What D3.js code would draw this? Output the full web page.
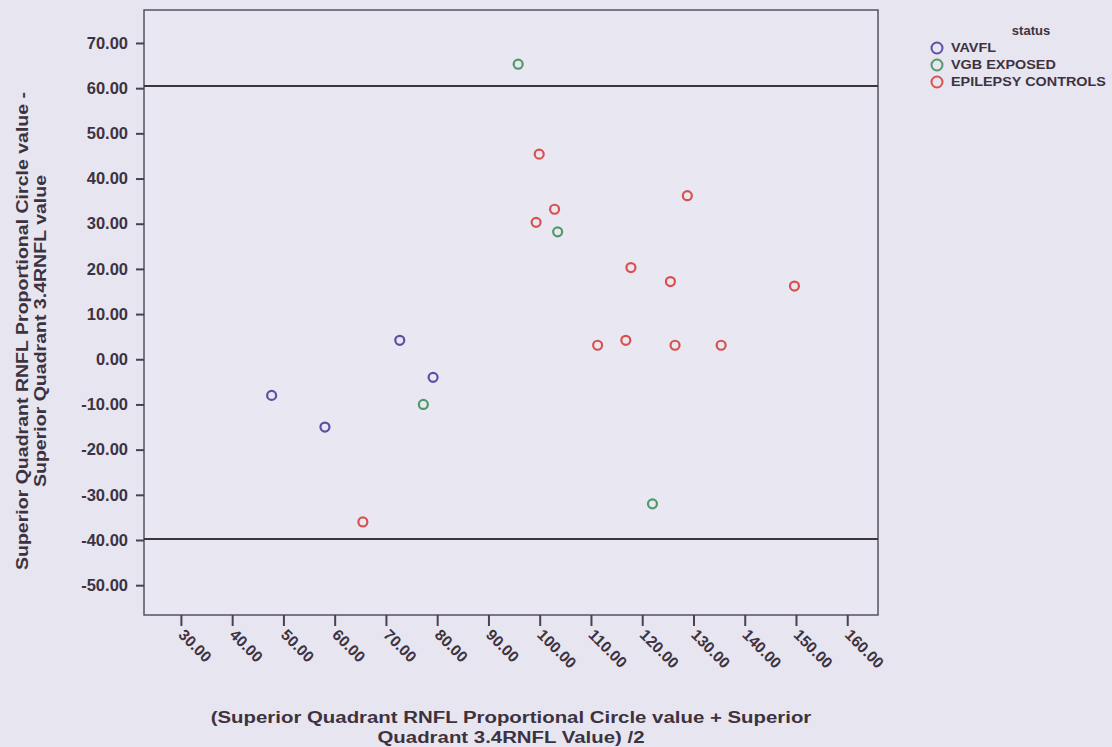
<!DOCTYPE html>
<html>
<head>
<script src="https://d3js.org/d3.v7.min.js"></script>
<style>
  body { margin: 0; background: #e7e5f0; }
  text { font-family: "Liberation Sans", Arial, sans-serif; font-weight: bold; fill: #3d3340; }
</style>
</head>
<body>
<script>
var width = 1112, height = 747;
var margin = {top: 10, right: 234, bottom: 132, left: 144};

// data
var groups = ["VAVFL", "VGB EXPOSED", "EPILEPSY CONTROLS"];
var groupColors = ["#5b4fa6", "#4f9a68", "#d8514f"];
var vavflX = [47.7, 58.1, 72.7, 79.2];
var vavflY = [-8, -15, 4.2, -4];
var vgbX = [77.3, 95.8, 103.5, 122];
var vgbY = [-10, 65.3, 28.2, -32];
var ctrlX = [65.5, 99.9, 102.9, 99.3, 128.8, 117.8, 125.5, 149.7, 111.3, 116.8, 126.4, 135.4];
var ctrlY = [-36, 45.4, 33.2, 30.3, 36.2, 20.3, 17.2, 16.2, 3.1, 4.2, 3.1, 3.1];
var refLines = [60.5, -39.8];
var xTicks = [30, 40, 50, 60, 70, 80, 90, 100, 110, 120, 130, 140, 150, 160];
var yTicks = [70, 60, 50, 40, 30, 20, 10, 0, -10, -20, -30, -40, -50];

var w = width - margin.left - margin.right,
    h = height - margin.top - margin.bottom;

var svg = d3.select("body").append("svg")
  .attr("width", width)
  .attr("height", height);

var g = svg.append("g")
  .attr("transform", "translate(" + margin.left + "," + margin.top + ")");

var x = d3.scaleLinear().domain([22.8, 166]).range([0, w]);
var y = d3.scaleLinear().domain([-56.6, 77.3]).range([h, 0]);

g.append("rect")
  .attr("width", w)
  .attr("height", h)
  .style("fill", "#e9e8f2")
  .style("stroke", "#5a5060")
  .style("stroke-width", 1.5);

// reference lines
g.selectAll(".ref")
  .data(refLines)
  .enter().append("line")
  .attr("x1", 0).attr("x2", w)
  .attr("y1", function(d){ return y(d); })
  .attr("y2", function(d){ return y(d); })
  .style("stroke", "#3e3440")
  .style("stroke-width", 2);

var xAxis = d3.axisBottom(x).tickValues(xTicks).tickSize(11).tickFormat(d3.format(".2f"));
var yAxis = d3.axisLeft(y).tickValues(yTicks).tickSize(8).tickFormat(d3.format(".2f"));

var gx = g.append("g")
  .attr("transform", "translate(0," + h + ")")
  .call(xAxis);
gx.select(".domain").remove();
gx.selectAll(".tick line").style("stroke", "#4a4050").style("stroke-width", 2);
gx.selectAll(".tick text")
  .style("font-size", "15.5px")
  .attr("text-anchor", "start")
  .attr("dy", "0.35em")
  .attr("transform", "translate(0,17) rotate(45)")
  .attr("y", 0).attr("x", 0);

var gy = g.append("g").call(yAxis);
gy.select(".domain").remove();
gy.selectAll(".tick line").style("stroke", "#4a4050").style("stroke-width", 2);
gy.selectAll(".tick text")
  .style("font-size", "16.5px")
  .attr("x", -16)
  .text(function(d){ return d < 0 ? "-" + d3.format(".2f")(-d) : d3.format(".2f")(d); });

// points
var series = [
  {xs: vavflX, ys: vavflY, c: groupColors[0]},
  {xs: vgbX, ys: vgbY, c: groupColors[1]},
  {xs: ctrlX, ys: ctrlY, c: groupColors[2]}
];
series.forEach(function(s){
  g.selectAll(null)
    .data(s.xs)
    .enter().append("circle")
    .attr("cx", function(d){ return x(d); })
    .attr("cy", function(d, i){ return y(s.ys[i]); })
    .attr("r", 4.5)
    .style("fill", "none")
    .style("stroke", s.c)
    .style("stroke-width", 2.2);
});

// axis titles (the scan is a little stretched sideways, so widen the text)
var xt = svg.append("g")
  .attr("transform", "translate(" + (margin.left + w/2) + ",0) scale(1.2,1)")
  .append("text")
  .attr("text-anchor", "middle")
  .style("font-size", "17px");
xt.append("tspan").attr("x", 0).attr("y", 723)
  .text("(Superior Quadrant RNFL Proportional Circle value + Superior");
xt.append("tspan").attr("x", 0).attr("y", 743)
  .text("Quadrant 3.4RNFL Value) /2");

var yt = svg.append("g")
  .attr("transform", "translate(0,331) rotate(-90) scale(1.15,1)")
  .append("text")
  .attr("text-anchor", "middle")
  .style("font-size", "17px");
yt.append("tspan").attr("x", 0).attr("y", 28)
  .text("Superior Quadrant RNFL Proportional Circle value -");
yt.append("tspan").attr("x", 0).attr("y", 46)
  .text("Superior Quadrant 3.4RNFL value");

// legend
var legend = svg.append("g").attr("transform", "translate(937,0)");
legend.append("text")
  .attr("x", 94).attr("y", 35)
  .attr("text-anchor", "middle")
  .style("font-size", "13px")
  .text("status");
var li = legend.selectAll(".li")
  .data(groups)
  .enter().append("g")
  .attr("transform", function(d, i){ return "translate(0," + (48 + i * 17) + ")"; });
li.append("circle")
  .attr("r", 5.5)
  .style("fill", "none")
  .style("stroke", function(d, i){ return groupColors[i]; })
  .style("stroke-width", 2);
li.append("text")
  .attr("transform", "translate(14,4) scale(1.2,1)")
  .style("font-size", "12px")
  .text(function(d){ return d; });
</script>
</body>
</html>
